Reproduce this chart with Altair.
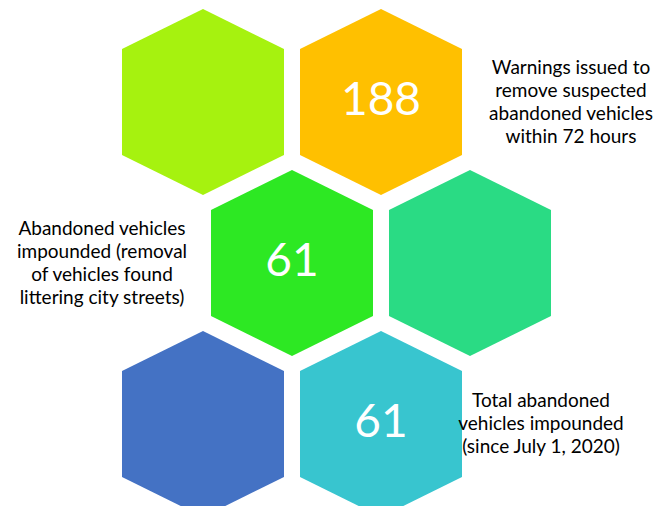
import altair as alt
import pandas as pd

# ---- data ----
hex_colors = ["#A6F20F", "#FFC000", "#2DE823", "#2ADB84", "#4472C4", "#38C5CF"]
hex_values = ["", "188", "61", "", "", "61"]
hex_rows = [0, 0, 1, 1, 2, 2]
hex_cols = [0, 1, 0, 1, 0, 1]

label_texts = [
    "Warnings issued to\nremove suspected\nabandoned vehicles\nwithin 72 hours",
    "Abandoned vehicles\nimpounded (removal\nof vehicles found\nlittering city streets)",
    "Total abandoned\nvehicles impounded\n(since July 1, 2020)",
]
label_rows = [0, 1, 2]

# ---- layout (chart pixel space) ----
W, H = 646, 498
X0, Y0 = 195, 94          # centre of first hexagon
DX, DY = 178, 161         # hex grid spacing
R = 93                    # hex half height
LH = 23                   # label line height
label_x = [563, 94, 533]

def cx(r, c):
    return X0 + DX * c + (DX / 2) * (r % 2)

def cy(r):
    return Y0 + DY * r

hex_df = pd.DataFrame({
    "color": hex_colors,
    "value": hex_values,
    "x": [cx(r, c) for r, c in zip(hex_rows, hex_cols)],
    "y": [cy(r) for r in hex_rows],
})
lab_df = pd.DataFrame({
    "text": label_texts,
    "x": label_x,
    "y": [cy(r) - (t.count("\n")) * LH / 2 for r, t in zip(label_rows, label_texts)],
})

hx, hs = 81 / R, 53 / R
hex_path = (f"M0,-1 L{hx:.3f},{-hs:.3f} L{hx:.3f},{hs:.3f} L0,1 "
            f"L{-hx:.3f},{hs:.3f} L{-hx:.3f},{-hs:.3f} Z")

xs = alt.X("x:Q", scale=alt.Scale(domain=[0, W], nice=False, zero=False), axis=None)
ys = alt.Y("y:Q", scale=alt.Scale(domain=[0, H], nice=False, zero=False, reverse=True), axis=None)

hexes = alt.Chart(hex_df).mark_point(
    shape=hex_path, filled=True, opacity=1, strokeWidth=0, size=(2 * R) ** 2
).encode(x=xs, y=ys, color=alt.Color("color:N", scale=None))

nums = alt.Chart(hex_df).mark_text(
    font="Lato", fontSize=46, color="white", baseline="middle", align="center", dy=-1
).encode(x=xs, y=ys, text="value:N")

labels = alt.Chart(lab_df).mark_text(
    font="Lato", fontSize=19, color="#000000", baseline="middle", align="center",
    lineBreak="\n", lineHeight=LH
).encode(x=xs, y=ys, text="text:N")

chart = alt.layer(hexes, nums, labels).properties(
    width=W, height=H, autosize=alt.AutoSizeParams(type="none"), padding=0
).configure_view(strokeWidth=0)

chart.save("out.html", embed_options={"renderer": "svg", "actions": False})
